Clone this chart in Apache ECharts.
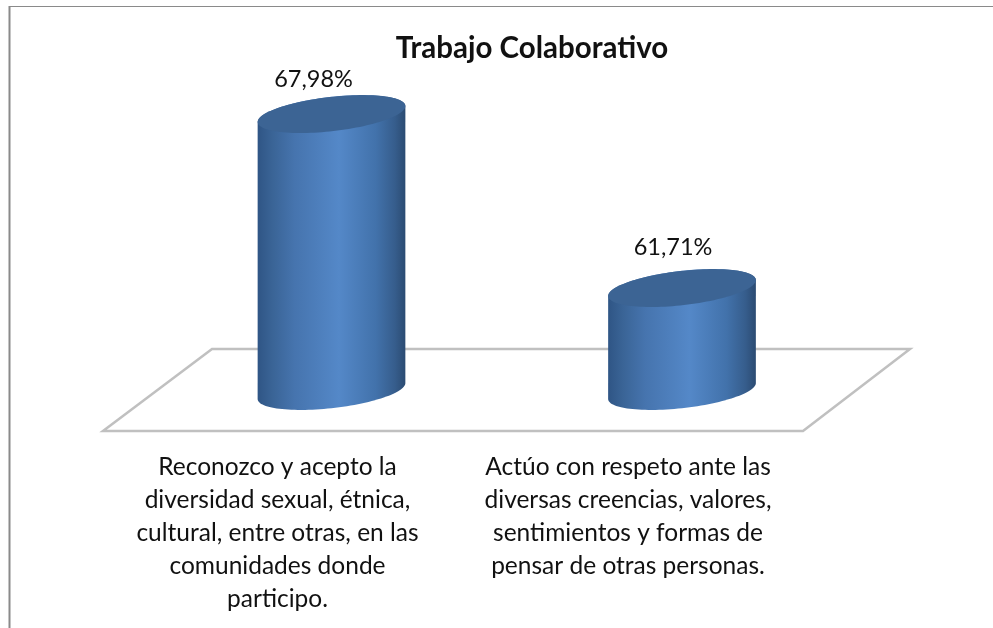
<!DOCTYPE html>
<html>
<head>
<meta charset="utf-8">
<title>Trabajo Colaborativo</title>
<script src="https://cdn.jsdelivr.net/npm/echarts@6/dist/echarts.min.js"></script>
<style>
    html, body { margin: 0; padding: 0; background: #fff; }
    #myChart { width: 993px; height: 628px; }
</style>
</head>
<body>
<div id="myChart"></div>
<script>
    var categories = [
        'Reconozco y acepto la\ndiversidad sexual, étnica,\ncultural, entre otras, en las\ncomunidades donde\nparticipo.',
        'Actúo con respeto ante las\ndiversas creencias, valores,\nsentimientos y formas de\npensar de otras personas.'
    ];
    var values = [67.98, 61.71];
    var axisMin = 58;
    var axisMax = 70;

    // forma del cilindro (elipse inclinada)
    var radiusRatio = 0.212;
    var minorRatio = 0.23;
    var tilt = 6.5 * Math.PI / 180;
    var labelShiftX = [-18, -9];
    var labelRise = [35, 41];
    var fontName = 'Lato, "Noto Sans", sans-serif';

    function ellipsePoint(cx, cy, a, b, t) {
        var px = a * Math.cos(t);
        var py = b * Math.sin(t);
        return [
            cx + px * Math.cos(tilt) + py * Math.sin(tilt),
            cy - px * Math.sin(tilt) + py * Math.cos(tilt)
        ];
    }

    function renderCylinder(params, api) {
        var idx = api.value(0);
        var val = api.value(1);
        var top = api.coord([idx, val]);
        var base = api.coord([idx, axisMin]);
        var a = api.size([1, 0])[0] * radiusRatio;
        var b = a * minorRatio;
        var halfWidth = Math.sqrt(a * a * Math.cos(tilt) * Math.cos(tilt) + b * b * Math.sin(tilt) * Math.sin(tilt));

        // angulo del punto mas a la derecha de la elipse
        var t0 = Math.atan2(b * Math.sin(tilt), a * Math.cos(tilt));
        var bodyPoints = [];
        var topPoints = [];
        var i;
        for (i = 0; i <= 60; i++) {
            bodyPoints.push(ellipsePoint(base[0], base[1], a, b, t0 + Math.PI * i / 60));
        }
        for (i = 0; i <= 60; i++) {
            bodyPoints.push(ellipsePoint(top[0], top[1], a, b, t0 + Math.PI + Math.PI * i / 60));
        }
        for (i = 0; i < 120; i++) {
            topPoints.push(ellipsePoint(top[0], top[1], a, b, Math.PI * 2 * i / 120));
        }

        return {
            type: 'group',
            children: [
                {
                    type: 'polygon',
                    shape: { points: bodyPoints },
                    style: {
                        fill: new echarts.graphic.LinearGradient(top[0] - halfWidth, 0, top[0] + halfWidth, 0, [
                            { offset: 0, color: '#2f5585' },
                            { offset: 0.1, color: '#3a6496' },
                            { offset: 0.25, color: '#4674ae' },
                            { offset: 0.55, color: '#5488c8' },
                            { offset: 0.8, color: '#4272ab' },
                            { offset: 0.93, color: '#365d8c' },
                            { offset: 1, color: '#2b4b72' }
                        ], true)
                    }
                },
                {
                    type: 'polygon',
                    shape: { points: topPoints },
                    style: { fill: '#3c6494' }
                },
                {
                    type: 'text',
                    x: top[0] + labelShiftX[idx],
                    y: top[1] - labelRise[idx],
                    style: {
                        text: val.toFixed(2).replace('.', ',') + '%',
                        fontSize: 23.5,
                        fontFamily: fontName,
                        fill: '#111',
                        align: 'center',
                        verticalAlign: 'middle'
                    }
                }
            ]
        };
    }

    var myChart = echarts.init(document.getElementById('myChart'));
    var option = {
        animation: false,
        backgroundColor: '#fff',
        title: {
            text: 'Trabajo Colaborativo',
            left: 527,
            top: 28,
            textAlign: 'center',
            textStyle: { fontSize: 29.5, fontWeight: 'bold', fontFamily: fontName, color: '#111' }
        },
        grid: { left: 156.25, right: 135.75, top: 58, bottom: 237 },
        xAxis: {
            type: 'category',
            data: categories,
            axisLine: { show: false },
            axisTick: { show: false },
            axisLabel: {
                interval: 0,
                margin: 60,
                padding: [0, 108, 0, 0],
                fontSize: 24.5,
                lineHeight: 33,
                fontFamily: fontName,
                color: '#111'
            }
        },
        yAxis: {
            type: 'value',
            min: axisMin,
            max: axisMax,
            show: false
        },
        series: [{
            type: 'custom',
            renderItem: renderCylinder,
            data: values.map(function (v, i) { return [i, v]; }),
            encode: { x: 0, y: 1 },
            clip: false,
            z: 5
        }],
        graphic: [
            {
                type: 'polygon',
                z: 0,
                silent: true,
                shape: { points: [[103, 431], [212, 349], [910, 349], [803, 431]] },
                style: { fill: '#fff', stroke: '#c0c0c0', lineWidth: 2.5 }
            },
            {
                type: 'line',
                z: 0,
                silent: true,
                shape: { x1: 9, y1: 6.5, x2: 993, y2: 6.5 },
                style: { stroke: '#8a8a8a', lineWidth: 1 }
            },
            {
                type: 'line',
                z: 0,
                silent: true,
                shape: { x1: 9.5, y1: 6, x2: 9.5, y2: 628 },
                style: { stroke: '#8a8a8a', lineWidth: 2 }
            }
        ]
    };
    myChart.setOption(option);
</script>
</body>
</html>
